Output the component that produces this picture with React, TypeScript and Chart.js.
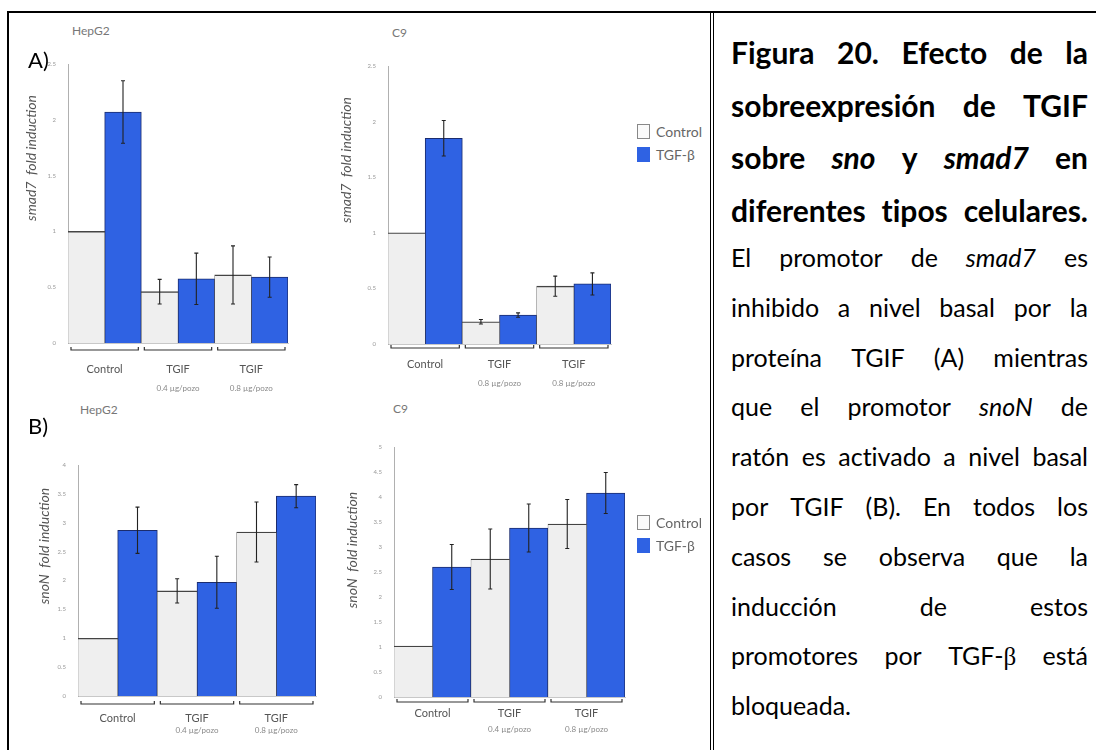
import React, { useEffect, useRef } from 'react';
import { Chart, registerables } from 'chart.js';

Chart.register(...registerables);

const FONT = 'Lato, "Open Sans", "Noto Sans", sans-serif';

// ---------- data ----------
const categories = ['Control', 'TGIF', 'TGIF'];
const seriesNames = ['Control', 'TGF-β'];

const hepSmadSub = ['', '0.4 µg/pozo', '0.8 µg/pozo'];
const c9SmadSub = ['', '0.8 µg/pozo', '0.8 µg/pozo'];
const hepSnoSub = ['', '0.4 µg/pozo', '0.8 µg/pozo'];
const c9SnoSub = ['', '0.4 µg/pozo', '0.8 µg/pozo'];

const hepSmadCtrl = [1.0, 0.46, 0.61];
const hepSmadCtrlErr = [0, 0.11, 0.26];
const hepSmadTgf = [2.07, 0.575, 0.59];
const hepSmadTgfErr = [0.28, 0.23, 0.18];

const c9SmadCtrl = [1.0, 0.2, 0.52];
const c9SmadCtrlErr = [0, 0.02, 0.09];
const c9SmadTgf = [1.85, 0.26, 0.54];
const c9SmadTgfErr = [0.16, 0.02, 0.1];

const hepSnoCtrl = [1.0, 1.82, 2.84];
const hepSnoCtrlErr = [0, 0.21, 0.52];
const hepSnoTgf = [2.87, 1.97, 3.46];
const hepSnoTgfErr = [0.4, 0.45, 0.2];

const c9SnoCtrl = [1.02, 2.76, 3.46];
const c9SnoCtrlErr = [0, 0.6, 0.49];
const c9SnoTgf = [2.6, 3.38, 4.08];
const c9SnoTgfErr = [0.45, 0.48, 0.41];

const smadMax = 2.5;
const hepSnoMax = 4;
const c9SnoMax = 5;
const tickStep = 0.5;

const captionLines = [
  { bold: true, text: 'Figura 20. Efecto de la' },
  { bold: true, text: 'sobreexpresión de TGIF' },
  { bold: true, text: 'sobre *sno* y *smad7* en' },
  { bold: true, text: 'diferentes tipos celulares.' },
  { bold: false, text: 'El promotor de *smad7* es' },
  { bold: false, text: 'inhibido a nivel basal por la' },
  { bold: false, text: 'proteína TGIF (A) mientras' },
  { bold: false, text: 'que el promotor *snoN* de' },
  { bold: false, text: 'ratón es activado a nivel basal' },
  { bold: false, text: 'por TGIF (B). En todos los' },
  { bold: false, text: 'casos se observa que la' },
  { bold: false, text: 'inducción de estos' },
  { bold: false, text: 'promotores por TGF-β está' },
  { bold: false, text: 'bloqueada.' },
];

const BLUE = '#2f62e3';
const CTRL_FILL = '#efefef';

type PanelProps = {
  left: number; top: number; width: number; height: number;
  area: { l: number; t: number; r: number; b: number };
  ctrl: number[]; ctrlErr: number[]; tgf: number[]; tgfErr: number[];
  max: number; sub: string[];
  off: { bracket: number; label: number; sub: number };
};

function BarPanel(p: PanelProps) {
  const ref = useRef<HTMLCanvasElement | null>(null);
  useEffect(() => {
    if (!ref.current) return;
    const errs = [p.ctrlErr, p.tgfErr];
    const decor = {
      id: 'decor',
      afterDatasetsDraw(chart: any) {
        const { ctx, chartArea } = chart;
        const ys = chart.scales.y;
        const xs = chart.scales.x;
        ctx.save();
        // error bars
        chart.data.datasets.forEach((ds: any, di: number) => {
          const meta = chart.getDatasetMeta(di);
          meta.data.forEach((bar: any, i: number) => {
            const v = ds.data[i];
            const e = errs[di][i];
            if (!e) return;
            const yt = ys.getPixelForValue(v + e);
            const yb = ys.getPixelForValue(v - e);
            ctx.strokeStyle = '#222';
            ctx.lineWidth = 1.1;
            ctx.beginPath();
            ctx.moveTo(bar.x, yt);
            ctx.lineTo(bar.x, yb);
            ctx.moveTo(bar.x - 2, yt);
            ctx.lineTo(bar.x + 2, yt);
            ctx.moveTo(bar.x - 2, yb);
            ctx.lineTo(bar.x + 2, yb);
            ctx.stroke();
          });
        });
        // brackets & labels
        const labels = chart.data.labels as string[];
        const cw = (chartArea.right - chartArea.left) / labels.length;
        labels.forEach((lab: string, i: number) => {
          const cx = xs.getPixelForValue(i);
          const by = chartArea.bottom + p.off.bracket;
          const x0 = cx - cw / 2 + 3;
          const x1 = cx + cw / 2 - 3;
          ctx.strokeStyle = '#333';
          ctx.lineWidth = 1.2;
          ctx.beginPath();
          ctx.moveTo(x0, by - 3);
          ctx.lineTo(x0, by);
          ctx.lineTo(x1, by);
          ctx.lineTo(x1, by - 3);
          ctx.stroke();
          ctx.fillStyle = '#555';
          ctx.font = `11px ${FONT}`;
          ctx.textAlign = 'center';
          ctx.textBaseline = 'middle';
          ctx.fillText(lab, cx, chartArea.bottom + p.off.label);
          if (p.sub[i]) {
            ctx.fillStyle = '#888';
            ctx.font = `8px ${FONT}`;
            ctx.fillText(p.sub[i], cx, chartArea.bottom + p.off.sub);
          }
        });
        ctx.restore();
      },
    };
    const chart = new Chart(ref.current, {
      type: 'bar',
      data: {
        labels: categories,
        datasets: [
          {
            label: seriesNames[0],
            data: p.ctrl,
            backgroundColor: CTRL_FILL,
            borderColor: '#444',
            borderWidth: { top: 1.4, left: 0.5, right: 0.5, bottom: 0 } as any,
            borderSkipped: 'start',
            categoryPercentage: 1,
            barPercentage: 1,
          },
          {
            label: seriesNames[1],
            data: p.tgf,
            backgroundColor: BLUE,
            borderColor: '#1b2c6e',
            borderWidth: 1,
            borderSkipped: 'start',
            categoryPercentage: 1,
            barPercentage: 1,
          },
        ],
      },
      options: {
        responsive: false,
        animation: false,
        devicePixelRatio: 1,
        layout: {
          padding: {
            left: 0,
            top: p.area.t - p.top,
            right: p.left + p.width - p.area.r,
            bottom: 0,
          },
        },
        plugins: { legend: { display: false }, tooltip: { enabled: false } },
        scales: {
          x: {
            type: 'category',
            offset: true,
            grid: { display: false },
            border: { display: true, color: '#c8c8c8', width: 1 },
            ticks: { display: false },
            afterFit: (s: any) => { s.height = p.top + p.height - p.area.b; },
          },
          y: {
            min: 0,
            max: p.max,
            grid: { display: false },
            border: { display: true, color: '#b0b0b0', width: 1 },
            ticks: {
              stepSize: tickStep,
              color: '#999',
              font: { size: 6, family: FONT },
              padding: 4,
              callback: (v: any) => `${v}`,
            },
            afterFit: (s: any) => { s.width = p.area.l - p.left; },
          },
        },
      },
      plugins: [decor],
    });
    return () => chart.destroy();
  }, []);
  return (
    <canvas
      ref={ref}
      width={p.width}
      height={p.height}
      style={{ position: 'absolute', left: p.left, top: p.top, width: p.width, height: p.height }}
    />
  );
}

function Legend({ left, top }: { left: number; top: number }) {
  const item = (fill: string, border: string, label: string, y: number) => (
    <div style={{ position: 'absolute', left, top: y, height: 16, display: 'flex', alignItems: 'center' }}>
      <div style={{ width: 13, height: 15, background: fill, border: `1px solid ${border}`, boxSizing: 'border-box' }} />
      <span style={{ marginLeft: 6, fontFamily: FONT, fontSize: 14, color: '#666', whiteSpace: 'nowrap' }}>{label}</span>
    </div>
  );
  return (
    <>
      {item('#fafafa', '#888', seriesNames[0], top)}
      {item(BLUE, BLUE, seriesNames[1], top + 23)}
    </>
  );
}

function YTitle({ cx, cy, name }: { cx: number; cy: number; name: string }) {
  return (
    <div
      style={{
        position: 'absolute', left: cx, top: cy, transform: 'translate(-50%, -50%) rotate(-90deg)',
        fontFamily: FONT, fontStyle: 'italic', fontSize: 14, color: '#555', whiteSpace: 'nowrap',
      }}
    >
      {name}&nbsp;&nbsp;fold induction
    </div>
  );
}

function Small({ x, y, text, size, color }: { x: number; y: number; text: string; size: number; color: string }) {
  return (
    <div style={{ position: 'absolute', left: x, top: y, transform: 'translateY(-50%)', fontFamily: FONT, fontSize: size, color, whiteSpace: 'nowrap', lineHeight: 1 }}>
      {text}
    </div>
  );
}

function renderWord(w: string, key: number) {
  let italic = false;
  let t = w;
  if (t.startsWith('*') && t.endsWith('*')) { italic = true; t = t.slice(1, -1); }
  const parts = t.split('β');
  const content = parts.map((s, i) => (
    <React.Fragment key={i}>
      {s}
      {i < parts.length - 1 && <span style={{ fontFamily: '"Liberation Serif", "DejaVu Serif", serif' }}>β</span>}
    </React.Fragment>
  ));
  return <span key={key} style={{ fontStyle: italic ? 'italic' : 'normal' }}>{content}</span>;
}

function Caption() {
  const centers: number[] = [];
  captionLines.forEach((ln, i) => {
    if (i < 4) centers.push(52 + i * 52.7);
    else centers.push(257 + (i - 4) * 49.8);
  });
  return (
    <>
      {captionLines.map((ln, i) => {
        const last = i === captionLines.length - 1;
        const words = ln.text.split(' ');
        return (
          <div
            key={i}
            style={{
              position: 'absolute', left: 731, top: centers[i] - 18, width: 357, height: 36,
              display: 'flex', alignItems: 'center', justifyContent: last ? 'flex-start' : 'space-between',
              fontFamily: FONT, fontWeight: ln.bold ? 700 : 400, fontSize: ln.bold ? 30 : 25,
              fontVariantLigatures: 'none', fontFeatureSettings: '"liga" 0, "clig" 0',
              color: '#000', whiteSpace: 'nowrap', gap: last ? 6 : 0,
            }}
          >
            {words.map((w, k) => renderWord(w, k))}
          </div>
        );
      })}
    </>
  );
}

export default function App() {
  return (
    <div style={{ position: 'absolute', left: 0, top: 0, width: 1096, height: 750, background: '#fff', overflow: 'hidden' }}>
      {/* table borders */}
      <div style={{ position: 'absolute', left: 7, top: 11, width: 1089, height: 2, background: '#000' }} />
      <div style={{ position: 'absolute', left: 7, top: 11, width: 2, height: 739, background: '#000' }} />
      <div style={{ position: 'absolute', left: 710, top: 11, width: 1, height: 739, background: '#000' }} />
      <div style={{ position: 'absolute', left: 713, top: 11, width: 1, height: 739, background: '#000' }} />

      <BarPanel left={10} top={40} width={300} height={360} area={{ l: 68, t: 64, r: 288, b: 343 }}
        ctrl={hepSmadCtrl} ctrlErr={hepSmadCtrlErr} tgf={hepSmadTgf} tgfErr={hepSmadTgfErr}
        max={smadMax} sub={hepSmadSub} off={{ bracket: 7, label: 26, sub: 45 }} />
      <BarPanel left={330} top={40} width={300} height={360} area={{ l: 388, t: 66, r: 611, b: 344 }}
        ctrl={c9SmadCtrl} ctrlErr={c9SmadCtrlErr} tgf={c9SmadTgf} tgfErr={c9SmadTgfErr}
        max={smadMax} sub={c9SmadSub} off={{ bracket: 4, label: 20, sub: 39 }} />
      <BarPanel left={10} top={440} width={320} height={305} area={{ l: 78, t: 465, r: 316, b: 696 }}
        ctrl={hepSnoCtrl} ctrlErr={hepSnoCtrlErr} tgf={hepSnoTgf} tgfErr={hepSnoTgfErr}
        max={hepSnoMax} sub={hepSnoSub} off={{ bracket: 8, label: 22, sub: 34 }} />
      <BarPanel left={340} top={430} width={300} height={315} area={{ l: 394, t: 447, r: 625, b: 697 }}
        ctrl={c9SnoCtrl} ctrlErr={c9SnoCtrlErr} tgf={c9SnoTgf} tgfErr={c9SnoTgfErr}
        max={c9SnoMax} sub={c9SnoSub} off={{ bracket: 5, label: 16, sub: 32 }} />

      <Small x={72} y={31} text="HepG2" size={12} color="#777" />
      <Small x={392} y={33} text="C9" size={12} color="#777" />
      <Small x={80} y={410} text="HepG2" size={12} color="#777" />
      <Small x={393} y={409} text="C9" size={12} color="#777" />
      <Small x={28} y={60} text="A)" size={22} color="#000" />
      <Small x={28} y={426} text="B)" size={22} color="#000" />

      <YTitle cx={30} cy={158} name="smad7" />
      <YTitle cx={345} cy={160} name="smad7" />
      <YTitle cx={43} cy={546} name="snoN" />
      <YTitle cx={351} cy={550} name="snoN" />

      <Legend left={637} top={123} />
      <Legend left={637} top={514} />

      <Caption />
    </div>
  );
}
